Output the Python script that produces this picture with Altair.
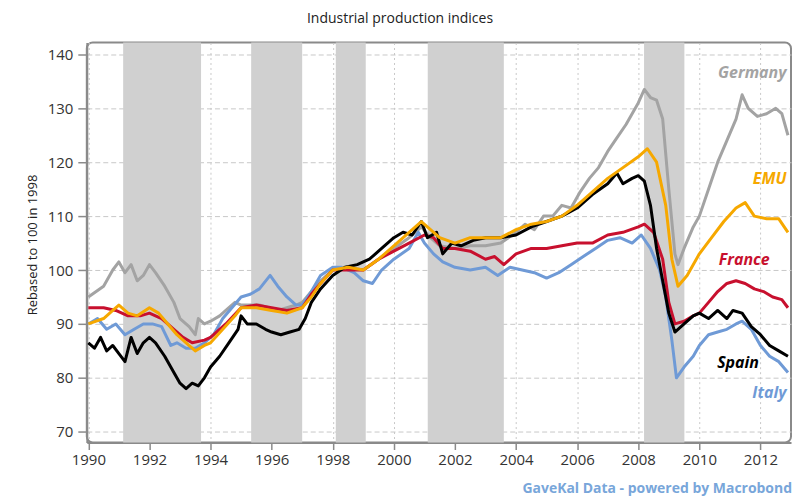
import altair as alt
import pandas as pd

# ---------------- data ----------------
germany_t = [1990.0, 1990.5, 1990.8, 1991.0, 1991.2, 1991.4, 1991.6, 1991.8, 1992.0, 1992.2, 1992.5, 1992.8,
             1993.0, 1993.3, 1993.5, 1993.6, 1993.8, 1994.0, 1994.3, 1994.5, 1994.8, 1995.0, 1995.3, 1995.6,
             1995.9, 1996.2, 1996.5, 1996.8, 1997.0, 1997.3, 1997.6, 1998.0, 1998.5, 1999.0, 1999.5, 2000.0,
             2000.5, 2000.9, 2001.2, 2001.5, 2002.0, 2002.5, 2003.0, 2003.5, 2004.0, 2004.3, 2004.6, 2004.9,
             2005.2, 2005.5, 2005.8, 2006.1, 2006.4, 2006.7, 2007.0, 2007.3, 2007.6, 2008.0, 2008.2, 2008.4,
             2008.6, 2008.8, 2009.0, 2009.2, 2009.3, 2009.5, 2009.8, 2010.0, 2010.3, 2010.6, 2010.9, 2011.2,
             2011.4, 2011.6, 2011.9, 2012.2, 2012.5, 2012.7, 2012.9]
germany_v = [95, 97, 100, 101.5, 99.5, 101, 98, 99, 101, 99.5, 97, 94,
             91, 89.5, 88, 91, 90, 90.5, 91.5, 92.5, 94, 93.5, 93.5, 93.5,
             93, 92.5, 93, 93.5, 94, 96, 98, 100, 100.5, 100, 102, 104,
             106, 108, 106, 104.5, 104, 104.5, 104.5, 105, 107, 108.5, 107.5, 110,
             110, 112, 111.5, 114.5, 117, 119, 122, 124.5, 127, 131, 133.5, 132,
             131.5, 128, 115, 103, 101, 104, 108, 110, 115, 120, 124, 128,
             132.5, 130, 128.5, 129, 130, 129, 125]

emu_t = [1990.0, 1990.5, 1990.8, 1991.0, 1991.3, 1991.6, 1992.0, 1992.3, 1992.6, 1992.9, 1993.2, 1993.5,
         1993.8, 1994.0, 1994.4, 1994.8, 1995.0, 1995.5, 1996.0, 1996.5, 1997.0, 1997.3, 1997.6, 1998.0,
         1998.5, 1999.0, 1999.5, 2000.0, 2000.5, 2000.9, 2001.2, 2001.5, 2002.0, 2002.5, 2003.0, 2003.5,
         2004.0, 2004.5, 2005.0, 2005.5, 2006.0, 2006.5, 2007.0, 2007.5, 2008.0, 2008.3, 2008.6, 2008.9,
         2009.1, 2009.3, 2009.6, 2010.0, 2010.4, 2010.8, 2011.2, 2011.5, 2011.8, 2012.2, 2012.6, 2012.9]
emu_v = [90, 91, 92.5, 93.5, 92, 91.5, 93, 92, 90, 88, 86.5, 85,
         86, 86.5, 89, 91.5, 93, 93, 92.5, 92, 93, 95, 97.5, 100,
         100.5, 100, 102, 104.5, 107, 109, 107.5, 106, 105, 106, 106, 106,
         107.5, 108.5, 109, 110, 112, 114.5, 117, 119, 121, 122.5, 120, 112,
         102, 97, 99, 103, 106, 109, 111.5, 112.5, 110, 109.5, 109.5, 107]

france_t = [1990.0, 1990.5, 1990.9, 1991.3, 1991.7, 1992.0, 1992.4, 1992.8, 1993.1, 1993.4, 1993.8, 1994.0,
            1994.5, 1995.0, 1995.5, 1996.0, 1996.5, 1997.0, 1997.3, 1997.6, 1998.0, 1998.5, 1999.0, 1999.5,
            2000.0, 2000.5, 2001.0, 2001.3, 2001.6, 2002.0, 2002.5, 2003.0, 2003.3, 2003.6, 2004.0, 2004.5,
            2005.0, 2005.5, 2006.0, 2006.5, 2007.0, 2007.5, 2008.0, 2008.2, 2008.5, 2008.8, 2009.0, 2009.2,
            2009.5, 2009.8, 2010.0, 2010.3, 2010.6, 2010.9, 2011.2, 2011.5, 2011.8, 2012.1, 2012.4, 2012.7,
            2012.9]
france_v = [93, 93, 92.5, 91.5, 91.5, 92, 91, 89, 87.5, 86.5, 87, 87.5,
            90, 93, 93.5, 93, 92.5, 93, 95.5, 97.5, 100, 100, 100, 102,
            103.5, 105, 106.5, 106, 104, 104, 103.5, 102, 102.5, 101, 103, 104,
            104, 104.5, 105, 105, 106.5, 107, 108, 108.5, 107, 102, 94, 90,
            90.5, 91.5, 92, 94, 96, 97.5, 98, 97.5, 96.5, 96, 95, 94.5,
            93]

spain_t = [1990.0, 1990.2, 1990.4, 1990.6, 1990.8, 1991.0, 1991.2, 1991.4, 1991.6, 1991.8, 1992.0, 1992.2,
           1992.5, 1992.8, 1993.0, 1993.2, 1993.4, 1993.6, 1993.8, 1994.0, 1994.3, 1994.6, 1994.9, 1995.0,
           1995.2, 1995.5, 1995.8, 1996.0, 1996.3, 1996.6, 1996.9, 1997.1, 1997.3, 1997.6, 1998.0, 1998.4,
           1998.8, 1999.2, 1999.6, 2000.0, 2000.3, 2000.6, 2000.9, 2001.1, 2001.4, 2001.6, 2001.9, 2002.2,
           2002.6, 2003.0, 2003.5, 2004.0, 2004.5, 2005.0, 2005.5, 2006.0, 2006.5, 2007.0, 2007.3, 2007.5,
           2007.8, 2008.0, 2008.2, 2008.4, 2008.6, 2008.8, 2009.0, 2009.2, 2009.5, 2009.8, 2010.0, 2010.3,
           2010.6, 2010.9, 2011.1, 2011.4, 2011.7, 2012.0, 2012.3, 2012.6, 2012.9]
spain_v = [86.5, 85.5, 87.5, 85, 86, 84.5, 83, 87.5, 84.5, 86.5, 87.5, 86.5,
           84, 81, 79, 78, 79, 78.5, 80, 82, 84, 86.5, 89, 91.5,
           90, 90, 89, 88.5, 88, 88.5, 89, 91, 94, 96.5, 99, 100.5,
           101, 102, 104, 106, 107, 106.5, 109, 106, 107, 103, 105, 104.5,
           105.5, 106, 106, 106.5, 108, 109, 110, 111.5, 114, 116, 118, 116,
           117, 117.5, 116.5, 112, 104, 98, 92, 88.5, 90, 91.5, 92, 91,
           92.5, 91, 92.5, 92, 89.5, 88, 86, 85, 84]

italy_t = [1990.0, 1990.3, 1990.6, 1990.9, 1991.2, 1991.5, 1991.8, 1992.1, 1992.4, 1992.7, 1992.9, 1993.2,
           1993.5, 1993.8, 1994.1, 1994.4, 1994.7, 1995.0, 1995.3, 1995.6, 1995.95, 1996.2, 1996.5, 1996.8,
           1997.0, 1997.3, 1997.6, 1998.0, 1998.3, 1998.7, 1999.0, 1999.3, 1999.6, 2000.0, 2000.5, 2000.8,
           2001.0, 2001.3, 2001.6, 2002.0, 2002.5, 2003.0, 2003.4, 2003.8, 2004.2, 2004.6, 2005.0, 2005.4,
           2005.8, 2006.2, 2006.6, 2007.0, 2007.4, 2007.8, 2008.1, 2008.4, 2008.7, 2008.9, 2009.1, 2009.25,
           2009.5, 2009.8, 2010.0, 2010.3, 2010.6, 2010.9, 2011.2, 2011.4, 2011.7, 2012.0, 2012.3, 2012.6,
           2012.9]
italy_v = [90, 91, 89, 90, 88, 89, 90, 90, 89.5, 86, 86.5, 85.5,
           85.5, 86.5, 88, 91, 93, 95, 95.5, 96.5, 99, 97, 95, 93.5,
           93.5, 96, 99, 100.5, 100.5, 99.5, 98, 97.5, 100, 102, 104, 107,
           105, 103, 101.5, 100.5, 100, 100.5, 99, 100.5, 100, 99.5, 98.5, 99.5,
           101, 102.5, 104, 105.5, 106, 105, 106.5, 104, 100, 95, 87, 80,
           82, 84, 86, 88, 88.5, 89, 90, 90.5, 89, 86, 84, 83,
           81]

series_names = ["Germany", "Italy", "France", "Spain", "EMU"]
series_colors = ["#a3a3a3", "#6f9ad6", "#c8102e", "#000000", "#f6a800"]

band_start = [1991.14, 1995.33, 1998.1, 2001.11, 2008.19]
band_end = [1993.69, 1997.0, 1999.08, 2003.6, 2009.51]

label_x = [2012.85, 2012.85, 2012.3, 2011.95, 2012.85]
label_y = [136.5, 116.9, 101.9, 82.8, 77.2]
label_names = ["Germany", "EMU", "France", "Spain", "Italy"]

x_ticks = list(range(1990, 2013, 2))
y_ticks = [70, 80, 90, 100, 110, 120, 130, 140]

# ---------------- tables ----------------
rows = []
for name, ts, vs in [("Germany", germany_t, germany_v), ("Italy", italy_t, italy_v),
                     ("France", france_t, france_v), ("Spain", spain_t, spain_v),
                     ("EMU", emu_t, emu_v)]:
    for i, (t, v) in enumerate(zip(ts, vs)):
        rows.append({"series": name, "year": t, "value": v, "i": i})
lines_df = pd.DataFrame(rows)
bands_df = pd.DataFrame({"start": band_start, "end": band_end})
labels_df = pd.DataFrame({"year": label_x, "value": label_y, "series": label_names})

X_DOM = [1989.95, 2013.0]
Y_DOM = [68.0, 142.2]
FONT = "Open Sans"

xs = alt.Scale(domain=X_DOM, nice=False, zero=False)
ys = alt.Scale(domain=Y_DOM, nice=False, zero=False)
cs = alt.Scale(domain=series_names, range=series_colors)

bands = alt.Chart(bands_df).mark_rect(color="#d0d0d0").encode(
    x=alt.X("start:Q", scale=xs, axis=alt.Axis(
        values=x_ticks, format="d", title=None, grid=True, gridDash=[2, 3],
        gridColor="#c8c8c8", gridWidth=1, domain=True, domainColor="#8a8a8a", domainWidth=2,
        ticks=True, tickColor="#8a8a8a", tickSize=7, tickWidth=1.5,
        labelFont=FONT, labelFontSize=15, labelColor="#333333", labelPadding=3)),
    x2="end:Q",
    y=alt.value(0),
    y2=alt.value(401),
)

grid_y = alt.Chart(bands_df).mark_rule(opacity=0).encode(
    y=alt.Y("start:Q", scale=ys, axis=alt.Axis(
        values=y_ticks, title=None, grid=True, gridDash=[5, 3], gridColor="#c8c8c8",
        gridWidth=1, domain=True, domainColor="#8a8a8a", domainWidth=2,
        ticks=True, tickColor="#8a8a8a", tickSize=9, tickWidth=1.5,
        labelFont=FONT, labelFontSize=15, labelColor="#333333", labelPadding=5)),
)

lines = alt.Chart(lines_df).mark_line(strokeWidth=3, strokeJoin="round", clip=True).encode(
    x=alt.X("year:Q", scale=xs),
    y=alt.Y("value:Q", scale=ys),
    color=alt.Color("series:N", scale=cs, legend=None),
    detail="series:N",
    order=alt.Order("i:Q"),
)

line_layers = [lines.transform_filter(alt.datum.series == n) for n in series_names]

labels = alt.Chart(labels_df).mark_text(
    font=FONT, fontSize=16, fontWeight="bold", fontStyle="italic", align="right", baseline="middle"
).encode(
    x=alt.X("year:Q", scale=xs),
    y=alt.Y("value:Q", scale=ys),
    text="series:N",
    color=alt.Color("series:N", scale=cs, legend=None),
)

title_df = pd.DataFrame({"t": ["Industrial production indices"]})
title = alt.Chart(title_df).mark_text(font=FONT, fontSize=14, color="#222222", align="center",
                                      baseline="middle").encode(
    text="t:N", x=alt.value(314), y=alt.value(-24))

ytitle_df = pd.DataFrame({"t": ["Rebased to 100 in 1998"]})
ytitle = alt.Chart(ytitle_df).mark_text(font=FONT, fontSize=13, color="#222222", align="center",
                                        baseline="middle", angle=270).encode(
    text="t:N", x=alt.value(-54), y=alt.value(203))

foot_df = pd.DataFrame({"t": ["GaveKal Data - powered by Macrobond"]})
footer = alt.Chart(foot_df).mark_text(font=FONT, fontSize=14, fontWeight="bold", color="#78a6da",
                                      align="right", baseline="middle").encode(
    text="t:N", x=alt.value(707), y=alt.value(448))

chart = alt.layer(bands, grid_y, *line_layers, labels, title, ytitle, footer).properties(
    width=706, height=401,
    autosize=alt.AutoSizeParams(type="none"),
    padding={"left": 79, "top": 34, "right": 3, "bottom": 56},
    background="white",
).configure_view(
    stroke="#8a8a8a", strokeWidth=2, cornerRadius=6
)

chart.save("out.html", embed_options={"renderer": "svg", "actions": False})
